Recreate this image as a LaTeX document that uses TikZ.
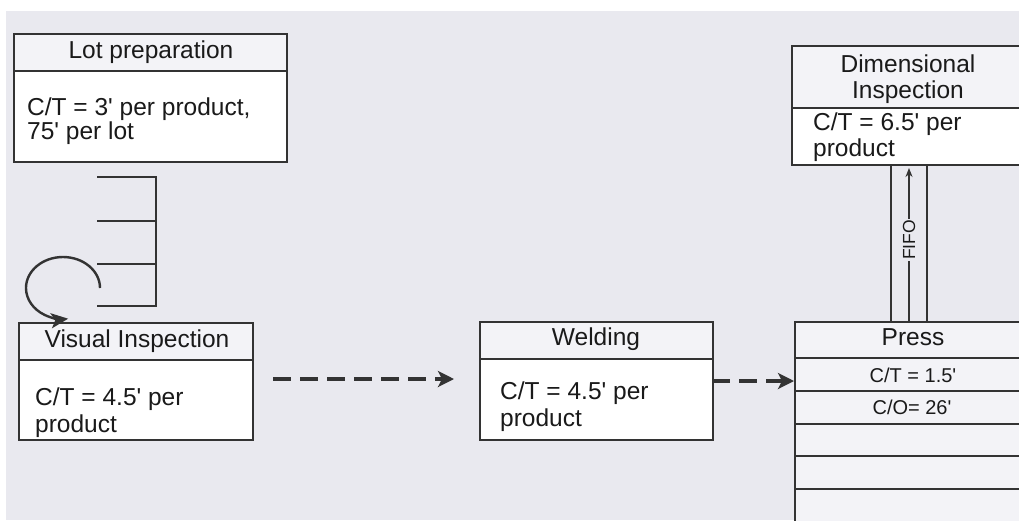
\documentclass[tikz,border=0pt]{standalone}
\usepackage{fontspec}
\setmainfont{Liberation Sans}[Ligatures=TeXOff]
\usetikzlibrary{arrows.meta}
\definecolor{bgc}{HTML}{E9E9EF}
\definecolor{hdc}{HTML}{F3F3F7}
\definecolor{lnc}{HTML}{333333}
\definecolor{txc}{HTML}{1A1A1A}
\begin{document}
\begin{tikzpicture}[x=1pt,y=-1pt,
  cell/.style={draw=lnc, line width=1.6pt, inner sep=0pt, anchor=north west},
  hcell/.style={cell, fill=hdc},
  bcell/.style={cell, fill=white},
  ttl/.style={text=txc, inner sep=0pt, anchor=base, font=\fontsize{24.5}{27}\selectfont},
  txt/.style={text=txc, inner sep=0pt, anchor=base west, font=\fontsize{24.5}{27}\selectfont},
  small/.style={text=txc, inner sep=0pt, anchor=base, font=\fontsize{20}{22}\selectfont},
  flow/.style={draw=lnc, line width=4pt, dash pattern=on 18pt off 9pt, -{Stealth[length=16pt,width=16pt,inset=4pt]}},
  inv/.style={draw=lnc, line width=2.4pt}
]
\useasboundingbox (0,0) rectangle (1019,520);
\clip (0,0) rectangle (1019,520);
\fill[white] (0,0) rectangle (1019,520);
\fill[bgc] (6,11) rectangle (1019,520);

% Lot preparation
\node[hcell, minimum width=273pt, minimum height=37pt] (lotH) at (13,33) {};
\node[bcell, minimum width=273pt, minimum height=91pt] (lotB) at (13,70) {};
\node[ttl] (lotT) at (151,58) {Lot preparation};
\node[txt] (lotL1) at (27,115) {C/T = 3' per product,};
\node[txt] (lotL2) at (27,139) {75' per lot};

% Inventory symbol
\draw[inv] (97,177) -- (156,177) -- (156,306) -- (97,306);
\draw[inv] (97,221) -- (156,221);
\draw[inv] (97,264) -- (156,264);

% Visual inspection
\node[hcell, minimum width=234pt, minimum height=37pt] (visH) at (18,322) {};
\node[bcell, minimum width=234pt, minimum height=80pt] (visB) at (18,359) {};
\node[ttl] (visT) at (137,347) {Visual Inspection};
\node[txt] (visL1) at (35,405) {C/T = 4.5' per};
\node[txt] (visL2) at (35,432) {product};

% loop arrow
\draw[lnc, line width=2.4pt, -{Stealth[length=17pt,width=15pt,inset=4pt]}] (100,288) arc[start angle=0, end angle=-278, x radius=37, y radius=31];

% Welding
\node[hcell, minimum width=233pt, minimum height=37pt] (welH) at (479,321) {};
\node[bcell, minimum width=233pt, minimum height=81pt] (welB) at (479,358) {};
\node[ttl] (welT) at (596,345) {Welding};
\node[txt] (welL1) at (500,399) {C/T = 4.5' per};
\node[txt] (welL2) at (500,426) {product};

% Dimensional inspection
\node[hcell, minimum width=234pt, minimum height=62pt] (dimH) at (791,45) {};
\node[bcell, minimum width=234pt, minimum height=57pt] (dimB) at (791,107) {};
\node[ttl] (dimT1) at (908,72) {Dimensional};
\node[ttl] (dimT2) at (908,98) {Inspection};
\node[txt] (dimL1) at (813,130) {C/T = 6.5' per};
\node[txt] (dimL2) at (813,156) {product};

% Press
\node[hcell, minimum width=238pt, minimum height=36pt] (pr0) at (794,321) {};
\node[hcell, minimum width=238pt, minimum height=33pt] (pr1) at (794,357) {};
\node[hcell, minimum width=238pt, minimum height=33pt] (pr2) at (794,390) {};
\node[hcell, minimum width=238pt, minimum height=32pt] (pr3) at (794,423) {};
\node[hcell, minimum width=238pt, minimum height=33pt] (pr4) at (794,455) {};
\node[hcell, minimum width=238pt, minimum height=42pt] (pr5) at (794,488) {};
\node[ttl] (prT) at (913,345) {Press};
\node[small] (prCT) at (913,382) {C/T = 1.5'};
\node[small] (prCO) at (912,414) {C/O= 26'};

% FIFO lane
\draw[lnc, line width=2pt] (891,164) -- (891,321);
\draw[lnc, line width=2pt] (927,164) -- (927,321);
\coordinate (fifoS) at (909,321);
\coordinate (fifoE) at (909,168);
\draw[lnc, line width=1.2pt, -{Stealth[length=9pt,width=7pt]}] (fifoS) -- (fifoE);
\node[fill=bgc, text=txc, inner sep=1.5pt, rotate=90, font=\fontsize{17.5}{19}\selectfont] (fifo) at (909,240) {FIFO};

% Push arrows
\coordinate (a1s) at (273,379);
\coordinate (a1e) at (454,379);
\draw[flow] (a1s) -- (a1e);
\coordinate (a2s) at (712,381);
\coordinate (a2e) at (794,381);
\draw[flow] (a2s) -- (a2e);
\end{tikzpicture}
\end{document}
